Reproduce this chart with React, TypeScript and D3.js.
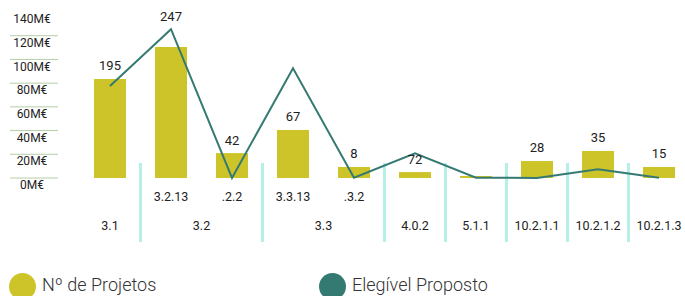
import React from "react";
import * as d3 from "d3";

const WIDTH = 685;
const HEIGHT = 296;

// categories (one per bar)
const categories = ["3.1", "3.2.13", "3.2.2", "3.3.13", "3.3.2", "4.0.2", "5.1.1", "10.2.1.1", "10.2.1.2", "10.2.1.3"];
const subLabels = ["", "3.2.13", ".2.2", "3.3.13", ".3.2", "", "", "", "", ""];
const groupLabels = ["3.1", "3.2", "3.3", "4.0.2", "5.1.1", "10.2.1.1", "10.2.1.2", "10.2.1.3"];
const groupSizes = [1, 2, 2, 1, 1, 1, 1, 1];

// Nº de Projetos (label) and bar height in M€
const projetos = [195, 247, 42, 67, 8, 72, null, 28, 35, 15];
const barValues = [83.5, 110.5, 21, 40.5, 9.3, 5, 1.7, 14.3, 22.8, 9.3];
// Elegível Proposto, M€
const elegivel = [77.6, 125.5, 0, 92.6, 0.3, 20.8, 0.3, 0, 7.3, 0.3];

const yTicks = [0, 20, 40, 60, 80, 100, 120, 140];

const BAR_COLOR = "#cdc42a";
const LINE_COLOR = "#357a72";
const GRID_COLOR = "#b3cfa6";
const SEP_COLOR = "#b4f0e6";
const FONT = "Roboto, 'DejaVu Sans', sans-serif";

export default function App() {
  const x = d3
    .scaleBand<string>()
    .domain(categories)
    .range([79.5, 689.5])
    .paddingInner(29 / 61)
    .paddingOuter(29 / 122);

  const y = d3.scaleLinear().domain([0, 140]).range([178, 12]);

  const cx = (c: string) => (x(c) as number) + x.bandwidth() / 2;
  const gap = x.step() - x.bandwidth();

  const line = d3
    .line<number>()
    .x((_, i) => cx(categories[i]))
    .y((d) => y(d));

  // group boundaries and centres
  let start = 0;
  const groups = groupSizes.map((n, gi) => {
    const first = categories[start];
    const last = categories[start + n - 1];
    const g = { label: groupLabels[gi], center: (cx(first) + cx(last)) / 2, first };
    start += n;
    return g;
  });

  return (
    <svg width={WIDTH} height={HEIGHT} style={{ position: "absolute", left: 0, top: 0 }} fontFamily={FONT}>
      {/* y axis */}
      {yTicks.map((t) => (
        <g key={t}>
          {t < 140 && <line x1={10} x2={58} y1={y(t)} y2={y(t)} stroke={GRID_COLOR} strokeWidth={1} />}
          <text x={32} y={y(t) + 8} textAnchor="middle" dominantBaseline="middle" fontSize={12} fill="#222">
            {t}M€
          </text>
        </g>
      ))}

      {/* separators */}
      {groups.slice(1).map((g) => (
        <line
          key={g.label}
          x1={(x(g.first) as number) - gap / 2}
          x2={(x(g.first) as number) - gap / 2}
          y1={163}
          y2={242}
          stroke={SEP_COLOR}
          strokeWidth={3}
        />
      ))}

      {/* bars */}
      {categories.map((c, i) => (
        <rect key={c} x={x(c)} y={y(barValues[i])} width={x.bandwidth()} height={y(0) - y(barValues[i])} fill={BAR_COLOR} />
      ))}

      {/* line */}
      <path d={line(elegivel) || ""} fill="none" stroke={LINE_COLOR} strokeWidth={2} />

      {/* value labels */}
      {categories.map((c, i) => {
        if (projetos[i] == null) return null;
        let ly = y(barValues[i]) - 12;
        const above = elegivel[i] > barValues[i] && elegivel[i] / barValues[i] < 1.25;
        if (above) ly = y(elegivel[i]) - 12;
        return (
          <text key={c} x={cx(c)} y={ly} textAnchor="middle" dominantBaseline="middle" fontSize={13} fill="#222">
            {projetos[i]}
          </text>
        );
      })}

      {/* category labels */}
      {categories.map((c, i) =>
        subLabels[i] ? (
          <text key={c} x={cx(c)} y={198} textAnchor="middle" dominantBaseline="middle" fontSize={12.5} fill="#222">
            {subLabels[i]}
          </text>
        ) : null
      )}
      {groups.map((g) => (
        <text key={g.label} x={g.center} y={227} textAnchor="middle" dominantBaseline="middle" fontSize={12.5} fill="#222">
          {g.label}
        </text>
      ))}

      {/* legend */}
      <circle cx={22.5} cy={286.5} r={13.5} fill={BAR_COLOR} />
      <text x={42} y={291} fontSize={18} fontWeight={300} fill="#333">
        Nº de Projetos
      </text>
      <circle cx={332.5} cy={286.5} r={13.5} fill={LINE_COLOR} />
      <text x={352} y={291} fontSize={18} fontWeight={300} fill="#333">
        Elegível Proposto
      </text>
    </svg>
  );
}
